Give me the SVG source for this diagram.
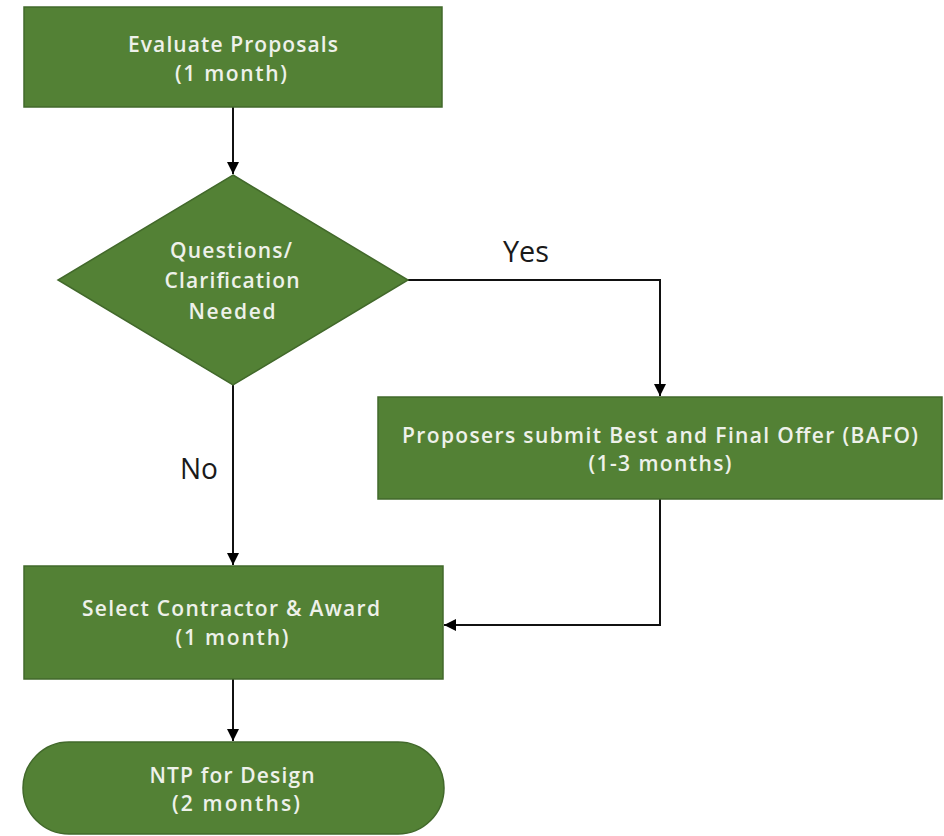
<svg xmlns="http://www.w3.org/2000/svg" width="944" height="836" viewBox="0 0 944 836">
<style>
.n{fill:#538135;stroke:#42692b;stroke-width:1.5}
.t{font-family:"Open Sans","DejaVu Sans",sans-serif;font-size:21px;font-weight:600;fill:#eef1ea;text-anchor:middle}
.l{font-family:"Open Sans","DejaVu Sans",sans-serif;font-size:29px;fill:#1a1a1a;text-anchor:middle}
.c{fill:none;stroke:#111;stroke-width:2}
</style>
<defs>
<marker id="a" viewBox="0 0 10 10" refX="10" refY="5" markerWidth="6" markerHeight="6" orient="auto" markerUnits="strokeWidth">
<path d="M0,0 L10,5 L0,10 Z" fill="#000"/>
</marker>
</defs>
<rect width="944" height="836" fill="#fff"/>
<g id="connectors">
<path class="c" d="M233,107 V174" marker-end="url(#a)"/>
<path class="c" d="M408,280 H660 V396" marker-end="url(#a)"/>
<path class="c" d="M233,385 V565" marker-end="url(#a)"/>
<path class="c" d="M660,499 V625 H444" marker-end="url(#a)"/>
<path class="c" d="M233,679 V741" marker-end="url(#a)"/>
<text class="l" x="526" y="262" textLength="46" lengthAdjust="spacingAndGlyphs">Yes</text>
<text class="l" x="199" y="479" textLength="38" lengthAdjust="spacingAndGlyphs">No</text>
</g>
<g id="evaluate">
<rect class="n" x="24" y="7" width="418" height="100"/>
<text class="t" x="233" y="52" textLength="210">Evaluate Proposals</text>
<text class="t" x="231" y="81" textLength="112">(1 month)</text>
</g>
<g id="decision">
<polygon class="n" points="233,175 408,280 233,385 58,280"/>
<text class="t" x="231" y="258" textLength="122">Questions/</text>
<text class="t" x="232" y="288" textLength="135">Clarification</text>
<text class="t" x="232" y="319" textLength="87">Needed</text>
</g>
<g id="bafo">
<rect class="n" x="378" y="397" width="564" height="102"/>
<text class="t" x="660" y="443" textLength="516">Proposers submit Best and Final Offer (BAFO)</text>
<text class="t" x="660" y="471" textLength="143">(1-3 months)</text>
</g>
<g id="select">
<rect class="n" x="24" y="566" width="419" height="113"/>
<text class="t" x="231" y="616" textLength="298">Select Contractor &amp; Award</text>
<text class="t" x="232" y="645" textLength="113">(1 month)</text>
</g>
<g id="ntp">
<rect class="n" x="23" y="742" width="421" height="92" rx="46" ry="46"/>
<text class="t" x="232" y="783" textLength="165">NTP for Design</text>
<text class="t" x="236" y="811" textLength="128">(2 months)</text>
</g>
</svg>
